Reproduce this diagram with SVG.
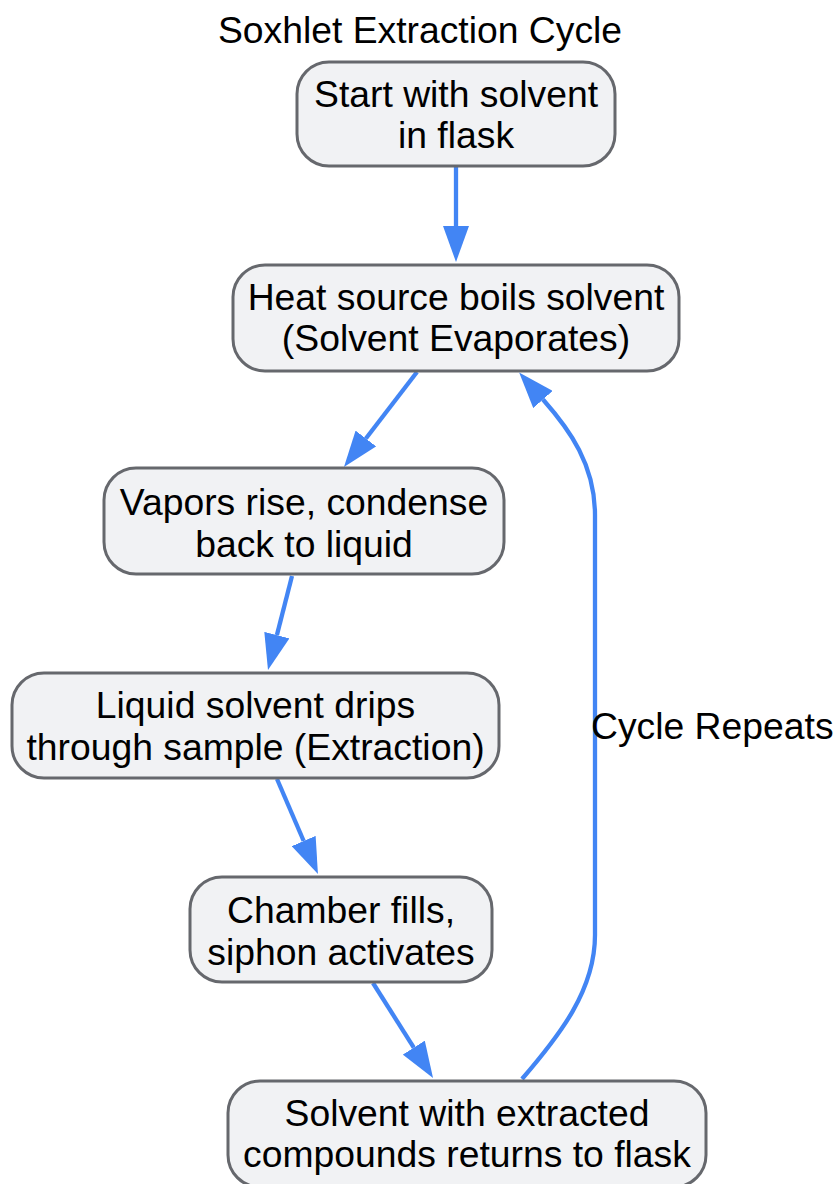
<svg xmlns="http://www.w3.org/2000/svg" width="836" height="1184" viewBox="0 0 836 1184">
  <style>
    .node rect { fill: #f1f2f4; stroke: #66686d; stroke-width: 3; }
    .node text, .title, .elabel { font-family: "Liberation Sans", Arial, sans-serif; font-size: 37.3px; fill: #000; }
    .node text, .title { text-anchor: middle; }
    .edge { fill: none; stroke: #4285f4; stroke-width: 4.3; marker-end: url(#arrow); }
  </style>
  <defs>
    <marker id="arrow" markerUnits="userSpaceOnUse" markerWidth="36" markerHeight="26" refX="0" refY="13" orient="auto" viewBox="0 0 36 26">
      <path d="M0,0 L36,13 L0,26 Z" fill="#4285f4"/>
    </marker>
  </defs>
  <rect width="836" height="1184" fill="#ffffff"/>
  <text class="title" x="420" y="43">Soxhlet Extraction Cycle</text>

  <g id="connectors">
    <path class="edge" d="M456,166 L456,226"/>
    <path class="edge" d="M417,372 L365.9,438.5"/>
    <path class="edge" d="M292,576 L276.9,635.1"/>
    <path class="edge" d="M277,779 L303.7,841"/>
    <path class="edge" d="M373,983 L413.8,1047.6"/>
    <path class="edge" d="M522,1079 C560,1035 595,990 595,935 L595,515 C595,465 570,430 543,399.5"/>
    <text class="elabel" x="591" y="739">Cycle Repeats</text>
  </g>

  <g id="n1" class="node">
    <rect x="297" y="62" width="318" height="104" rx="32"/>
    <text x="456" y="107">Start with solvent</text>
    <text x="456" y="148">in flask</text>
  </g>
  <g id="n2" class="node">
    <rect x="233" y="265" width="446" height="106" rx="32"/>
    <text x="456" y="310">Heat source boils solvent</text>
    <text x="456" y="351">(Solvent Evaporates)</text>
  </g>
  <g id="n3" class="node">
    <rect x="104" y="468" width="400" height="106" rx="32"/>
    <text x="304" y="515">Vapors rise, condense</text>
    <text x="304" y="557">back to liquid</text>
  </g>
  <g id="n4" class="node">
    <rect x="12" y="673" width="487" height="105" rx="32"/>
    <text x="255.5" y="718">Liquid solvent drips</text>
    <text x="255.5" y="760">through sample (Extraction)</text>
  </g>
  <g id="n5" class="node">
    <rect x="190" y="877" width="302" height="105" rx="32"/>
    <text x="341" y="923">Chamber fills,</text>
    <text x="341" y="965">siphon activates</text>
  </g>
  <g id="n6" class="node">
    <rect x="228" y="1081" width="478" height="106" rx="32"/>
    <text x="467" y="1126">Solvent with extracted</text>
    <text x="467" y="1167">compounds returns to flask</text>
  </g>
</svg>
